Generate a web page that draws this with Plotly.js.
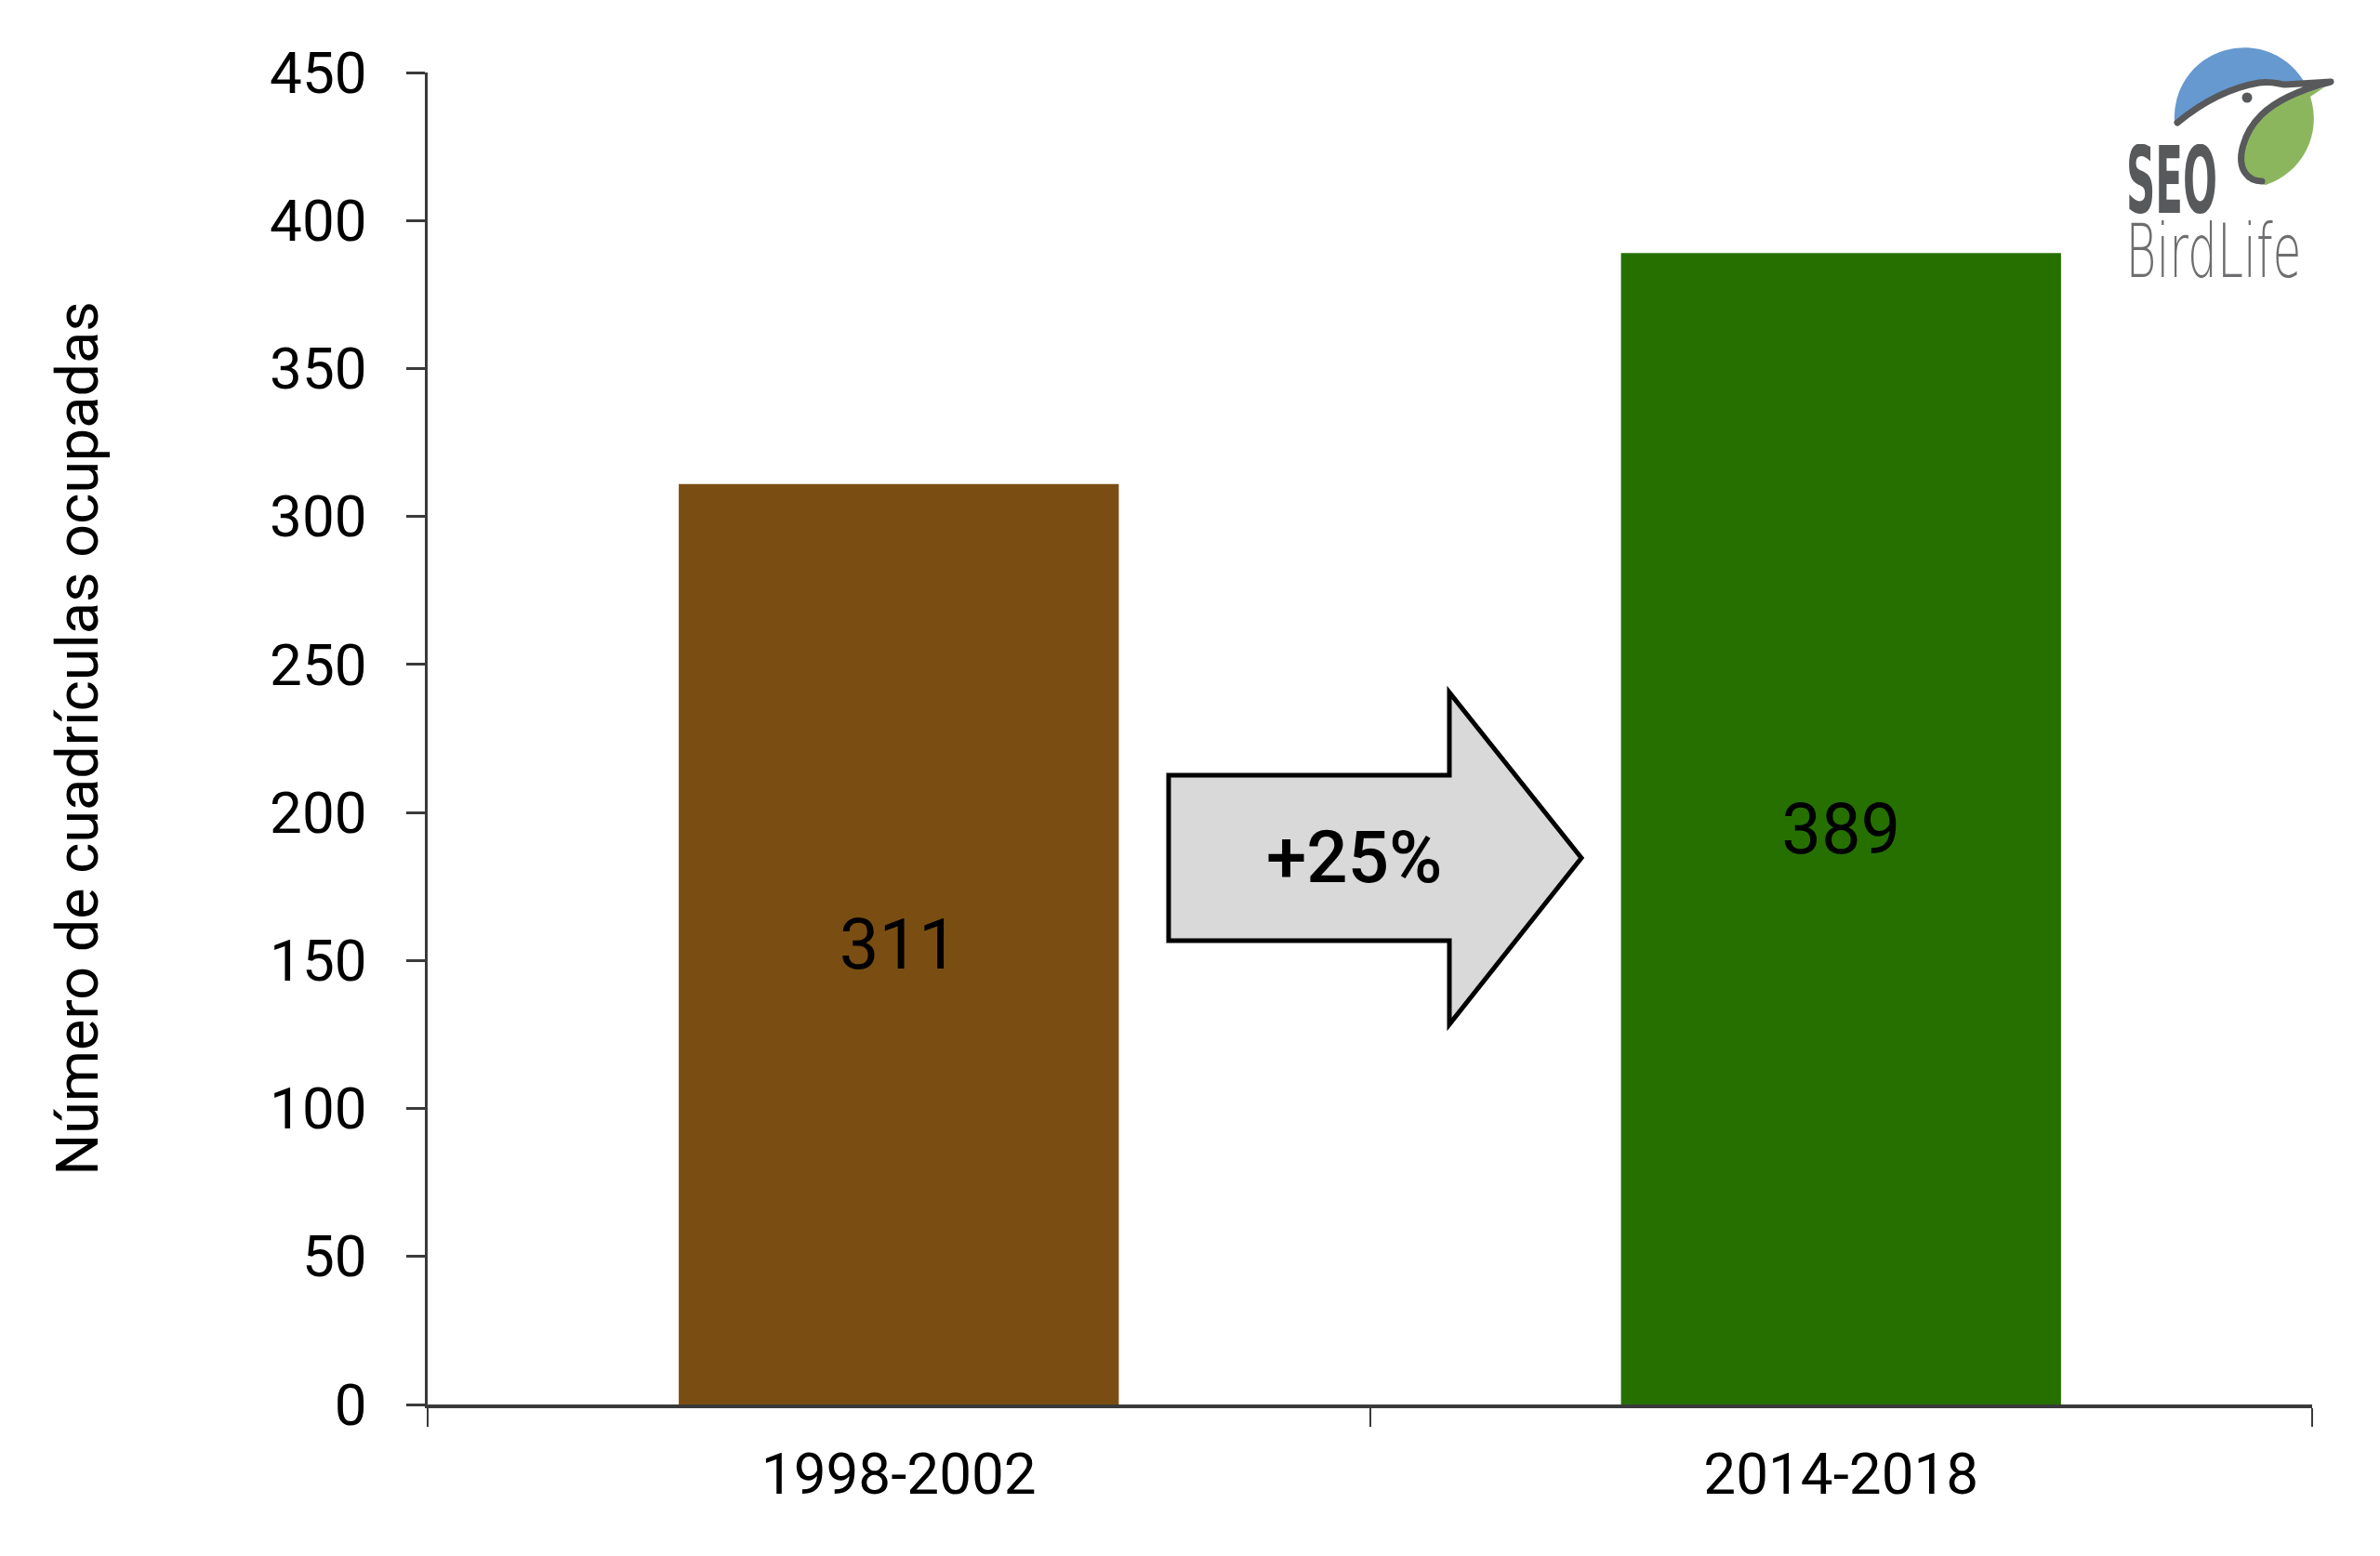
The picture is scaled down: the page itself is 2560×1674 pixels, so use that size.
<!DOCTYPE html>
<html><head><meta charset="utf-8">
<script src="https://cdn.plot.ly/plotly-3.0.1.min.js"></script>
<style>html,body{margin:0;padding:0;background:#fff}#chart{width:2560px;height:1674px}</style>
</head><body><div id="chart"></div>
<script>
// ---- data ----
const categories = ['1998-2002', '2014-2018'];
const cuadriculas = [311, 389];
const barColors = ['#7a4e12', '#267000'];
const yTickVals = [0, 50, 100, 150, 200, 250, 300, 350, 400, 450];
const yTitle = 'Número de cuadrículas ocupadas';
const changeLabel = '+25%';
const logoTop = 'SEO';
const logoBottom = 'BirdLife';

// ---- layout geometry (pixels) ----
const W = 2560, H = 1674;
const M = {l: 460, r: 73, t: 78, b: 163};
const PW = W - M.l - M.r, PH = H - M.t - M.b;
const px = x => (x - M.l) / PW;
const py = y => (H - M.b - y) / PH;

const FONT = 'Roboto, "Open Sans", "DejaVu Sans", sans-serif';
const AX = '#3a3a3a';

// arrow outline in pixel space
const arrowPts = [[1257,834],[1559,834],[1559,745],[1701,923],[1559,1102],[1559,1012],[1257,1012]];
const arrowPath = 'M' + arrowPts.map(p => px(p[0]).toFixed(5) + ',' + py(p[1]).toFixed(5)).join(' L') + ' Z';

const logoSvg = `<svg xmlns="http://www.w3.org/2000/svg" viewBox="2320 40 200 180" width="200" height="180">
<path d="M2339 132 A75 75 0 0 1 2480 91 L2455 92 C2445 89 2440 88 2430 89 C2395 94 2365 112 2342 132 Z" fill="#6699cf"/>
<path d="M2485 104 L2500 94 C2465 103 2440 115 2427 132 C2410 152 2406 178 2420 190 C2426 196 2432 198 2437 199 A75 75 0 0 0 2485 104 Z" fill="#8cb65e"/>
<path d="M2342 132 C2365 113 2395 95 2430 89 C2442 87 2450 90 2458 91 L2507 88 C2480 95 2450 106 2432 124 C2413 143 2405 172 2415 186 C2420 193 2427 195 2433 195" fill="none" stroke="#58595b" stroke-width="7" stroke-linecap="round" stroke-linejoin="round"/>
<circle cx="2417" cy="105" r="5.5" fill="#58595b"/>
</svg>`;

const data = [{
  type: 'bar',
  x: categories,
  y: cuadriculas,
  marker: {color: barColors},
  text: cuadriculas.map(String),
  textposition: 'inside',
  insidetextanchor: 'middle',
  constraintext: 'none',
  textangle: 0,
  textfont: {family: FONT, size: 76, color: '#000'},
  hoverinfo: 'skip'
}];

const layout = {
  width: W, height: H,
  margin: M,
  paper_bgcolor: '#fff', plot_bgcolor: '#fff',
  showlegend: false,
  bargap: 0.533,
  font: {family: FONT, color: '#000'},
  xaxis: {
    type: 'category',
    range: [-0.5, 1.5],
    tickson: 'boundaries',
    ticks: 'outside', ticklen: 20, tickwidth: 2, tickcolor: AX,
    showline: true, linecolor: AX, linewidth: 4,
    showgrid: false, zeroline: false,
    tickfont: {family: FONT, size: 62, color: '#000'},
    ticklabelstandoff: 18
  },
  yaxis: {
    range: [0, 450],
    tickvals: yTickVals,
    ticks: 'outside', ticklen: 20, tickwidth: 3, tickcolor: AX,
    showline: true, linecolor: AX, linewidth: 3,
    showgrid: false, zeroline: false,
    tickfont: {family: FONT, size: 62, color: '#000'},
    ticklabelstandoff: 30,
    title: {text: yTitle, font: {family: FONT, size: 63, color: '#000'}, standoff: 165}
  },
  shapes: [{
    type: 'path', xref: 'paper', yref: 'paper', path: arrowPath,
    fillcolor: '#d9d9d9', line: {color: '#000', width: 5}, layer: 'above'
  }],
  annotations: [
    {xref: 'paper', yref: 'paper', x: px(1456), y: py(923), text: changeLabel, showarrow: false,
     xanchor: 'center', yanchor: 'middle', font: {family: FONT, size: 78, color: '#000', weight: 500}},
    {xref: 'paper', yref: 'paper', x: px(2336), y: py(194), text: logoTop, showarrow: false,
     xanchor: 'center', yanchor: 'middle', width: 104, height: 78,
     font: {family: '"Liberation Sans Narrow", "DejaVu Sans Condensed", sans-serif', size: 100, color: '#58595b', weight: 700}},
    {xref: 'paper', yref: 'paper', x: px(2381), y: py(270), text: logoBottom, showarrow: false,
     xanchor: 'center', yanchor: 'middle', width: 196, height: 66,
     font: {family: '"DejaVu Sans", sans-serif', size: 80, color: '#6d6e70', weight: 200}}
  ],
  images: [{
    source: 'data:image/svg+xml;charset=utf-8,' + encodeURIComponent(logoSvg),
    xref: 'paper', yref: 'paper', x: px(2320), y: py(40), sizex: 200 / PW, sizey: 180 / PH,
    xanchor: 'left', yanchor: 'top', sizing: 'stretch', layer: 'above'
  }]
};

Plotly.newPlot('chart', data, layout, {displayModeBar: false, staticPlot: true}).then(gd => {
  gd.querySelectorAll('.annotation-text').forEach(t => {
    const s = t.textContent;
    if (s === logoTop) { t.setAttribute('textLength', '98'); t.setAttribute('lengthAdjust', 'spacingAndGlyphs'); }
    if (s === logoBottom) { t.setAttribute('textLength', '189'); t.setAttribute('lengthAdjust', 'spacingAndGlyphs'); }
  });
});
</script>
</body></html>
